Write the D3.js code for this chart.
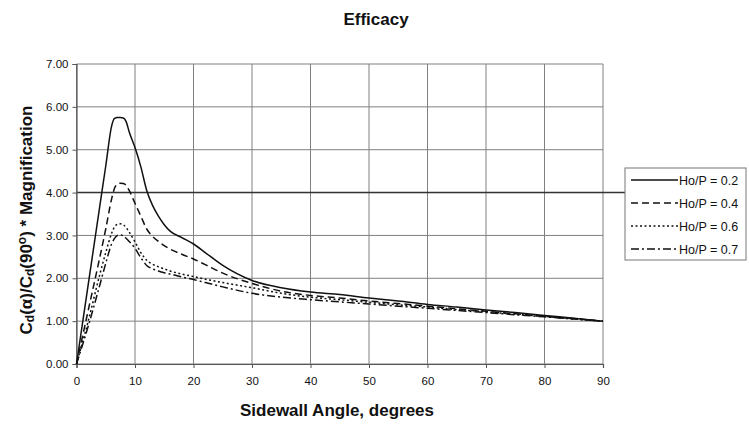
<!DOCTYPE html>
<html><head><meta charset="utf-8">
<script src="https://cdn.jsdelivr.net/npm/d3@7"></script>
<style>
html,body{margin:0;padding:0;background:#fff;}
text{font-family:"Liberation Sans",Arial,sans-serif;fill:#111;}
</style></head>
<body><svg id="chart" width="749" height="426"></svg>
<script>
const angles = [0,2,4,5,6,6.5,7,7.5,8,8.5,9,10,11,12,13,14,15,16,18,20,22,25,30,35,40,45,50,55,60,65,70,75,80,85,90];
const ho02 = [0,1.85,3.7,4.62,5.55,5.73,5.75,5.75,5.74,5.65,5.42,5.05,4.6,4.05,3.7,3.45,3.25,3.1,2.95,2.8,2.6,2.3,1.95,1.78,1.68,1.62,1.54,1.47,1.39,1.33,1.26,1.2,1.13,1.07,1.0];
const ho04 = [0,1.25,2.5,3.15,3.85,4.1,4.2,4.22,4.21,4.17,4.05,3.75,3.45,3.15,2.98,2.86,2.76,2.68,2.56,2.45,2.32,2.12,1.88,1.7,1.6,1.54,1.47,1.41,1.35,1.29,1.23,1.17,1.11,1.06,1.0];
const ho06 = [0,1.0,2.1,2.6,3.05,3.2,3.26,3.27,3.25,3.18,3.08,2.85,2.6,2.42,2.33,2.27,2.22,2.17,2.1,2.04,1.98,1.9,1.78,1.65,1.56,1.5,1.44,1.38,1.33,1.27,1.22,1.16,1.11,1.05,1.0];
const ho07 = [0,0.88,1.85,2.35,2.8,2.93,3.0,3.01,2.99,2.93,2.86,2.7,2.48,2.3,2.22,2.17,2.13,2.1,2.03,1.97,1.9,1.8,1.65,1.56,1.5,1.45,1.4,1.35,1.3,1.25,1.2,1.15,1.1,1.05,1.0];
const seriesNames = ["Ho/P = 0.2","Ho/P = 0.4","Ho/P = 0.6","Ho/P = 0.7"];
const seriesValues = [ho02, ho04, ho06, ho07];
const xTicks = [0,10,20,30,40,50,60,70,80,90];
const yTicks = [0,1,2,3,4,5,6,7];
const dashes = [null, "7,4", "2,2.5", "8,3,2,3"];

const svg = d3.select("#chart");
const L = 76.5, R = 603, T = 64, B = 364;
const x = d3.scaleLinear().domain([0,90]).range([L,R]);
const y = d3.scaleLinear().domain([0,7]).range([B,T]);

// grid
const g = svg.append("g");
g.selectAll("line.h").data(yTicks).join("line")
  .attr("x1",L).attr("x2",R).attr("y1",d=>y(d)).attr("y2",d=>y(d))
  .attr("stroke","#808080").attr("stroke-width",1);
g.selectAll("line.v").data(xTicks).join("line")
  .attr("y1",T).attr("y2",B).attr("x1",d=>x(d)).attr("x2",d=>x(d))
  .attr("stroke","#808080").attr("stroke-width",1);
// dark line at 4.00 extending to legend
g.append("line").attr("x1",L).attr("x2",625).attr("y1",y(4)).attr("y2",y(4))
  .attr("stroke","#333").attr("stroke-width",1.5);

// axes
const xAxis = d3.axisBottom(x).tickValues(xTicks).tickSize(4).tickFormat(d3.format("d"));
const yAxis = d3.axisLeft(y).tickValues(yTicks).tickSize(4).tickFormat(d3.format(".2f"));
const gx = svg.append("g").attr("transform",`translate(0,${B})`).call(xAxis);
const gy = svg.append("g").attr("transform",`translate(${L},0)`).call(yAxis);
[gx,gy].forEach(a=>{
  a.select(".domain").attr("stroke","#555").attr("stroke-width",1.2);
  a.selectAll(".tick line").attr("stroke","#555");
  a.selectAll(".tick text").attr("font-family","Liberation Sans, Arial, sans-serif").attr("font-size",11.5).attr("fill","#111");
});
gx.selectAll(".tick text").attr("dy","1.2em");
gy.selectAll(".tick text").attr("x",-8);

// lines
const line = d3.line().x((d,i)=>x(angles[i])).y(d=>y(d)).curve(d3.curveMonotoneX);
seriesValues.forEach((vals,k)=>{
  svg.append("path").datum(vals).attr("d",line)
    .attr("fill","none").attr("stroke","#111").attr("stroke-width",1.5)
    .attr("stroke-dasharray",dashes[k]);
});

// title
svg.append("text").attr("x",376).attr("y",25).attr("text-anchor","middle")
  .attr("font-size",17).attr("font-weight","bold").text("Efficacy");
// x title
svg.append("text").attr("x",337).attr("y",416).attr("text-anchor","middle")
  .attr("font-size",17).attr("font-weight","bold").text("Sidewall Angle, degrees");
// y title
const yt = svg.append("text").attr("transform","translate(32,220) rotate(-90)")
  .attr("text-anchor","middle").attr("font-size",17).attr("font-weight","bold");
yt.append("tspan").text("C");
yt.append("tspan").attr("font-size",12).attr("dy",2).text("d");
yt.append("tspan").attr("dy",-2).text("(α)/C");
yt.append("tspan").attr("font-size",12).attr("dy",2).text("d");
yt.append("tspan").attr("dy",-2).text("(90");
yt.append("tspan").attr("font-size",12).attr("dy",-6).text("o");
yt.append("tspan").attr("dy",6).text(") * Magnification");

// legend
const lg = svg.append("g");
lg.append("rect").attr("x",625).attr("y",168).attr("width",121).attr("height",92)
  .attr("fill","#fff").attr("stroke","#777").attr("stroke-width",1);
const ly = [180,203,226,249];
seriesNames.forEach((n,k)=>{
  lg.append("line").attr("x1",631).attr("x2",678).attr("y1",ly[k]).attr("y2",ly[k])
    .attr("stroke","#111").attr("stroke-width",1.5).attr("stroke-dasharray",dashes[k]);
  lg.append("text").attr("x",679).attr("y",ly[k]+4.5).attr("font-size",12.5).text(n);
});
</script></body></html>
